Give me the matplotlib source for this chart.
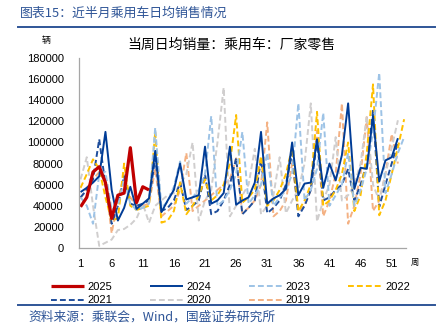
import numpy as np
import matplotlib
matplotlib.use('Agg')
import matplotlib.pyplot as plt
from matplotlib.lines import Line2D

plt.rcParams['font.family'] = ['Liberation Sans', 'Noto Sans CJK SC', 'DejaVu Sans']
CJK = ['Noto Sans CJK SC', 'DejaVu Sans']

# weekly daily-average retail sales (thousand units)
y2025 = [39, 48, 72, 77, 62, 28, 50, 52, 95, 43, 58, 55]
y2024 = [53, 57, 62, 68, 110, 55, 26, 38, 58, 37, 42, 47, 92, 34, 45, 55, 80, 46, 48, 50,
         96, 42, 45, 52, 96, 41, 45, 48, 62, 110, 42, 47, 50, 56, 100, 50, 61, 62, 103, 57,
         80, 64, 88, 137, 56, 76, 75, 125, 63, 83, 86, 104]
y2023 = [48, 40, 23, 70, 72, 36, 40, 65, 42, 36, 38, 42, 114, 38, 44, 58, 82, 42, 48, 55,
         70, 125, 40, 45, 55, 70, 110, 42, 50, 60, 90, 40, 48, 55, 70, 137, 45, 55, 75, 128,
         40, 50, 60, 90, 40, 55, 75, 110, 166, 52, 70, 90, 105]
y2022 = [57, 70, 84, 75, 48, 26, 28, 80, 40, 36, 38, 40, 110, 24, 26, 35, 62, 32, 40, 50,
         65, 45, 50, 60, 80, 126, 43, 48, 55, 87, 40, 45, 55, 70, 95, 35, 45, 60, 129, 40,
         45, 55, 70, 100, 35, 50, 90, 155, 31, 45, 70, 95, 122]
y2021 = [48, 55, 65, 103, 60, 23, 40, 68, 42, 40, 42, 45, 85, 35, 38, 45, 62, 36, 40, 45,
         70, 32, 35, 45, 60, 85, 32, 38, 45, 84, 33, 38, 45, 60, 90, 30, 40, 55, 102, 45,
         48, 55, 60, 75, 45, 60, 80, 130, 39, 60, 80, 100]
y2020 = [65, 86, 40, 2, 5, 8, 17, 18, 22, 28, 42, 24, 40, 45, 50, 52, 60, 70, 100, 26,
         45, 55, 100, 152, 30, 40, 50, 60, 94, 32, 40, 50, 86, 33, 45, 55, 80, 137, 25, 45,
         60, 105, 45, 50, 60, 80, 125, 60, 45, 70, 95, 121]
y2019 = [47, 57, 65, 72, 62, 14, 45, 70, 48, 40, 40, 42, 75, 30, 35, 40, 55, 90, 35, 40,
         45, 50, 55, 60, 65, 85, 33, 38, 45, 60, 119, 30, 35, 45, 80, 35, 40, 55, 111, 30,
         45, 70, 137, 23, 40, 70, 124, 35, 45, 70, 108, 80]

series = [
    ('2025', y2025, '#C00000', '-', 2.3),
    ('2024', y2024, '#003C96', '-', 1.4),
    ('2023', y2023, '#9DC3E6', '--', 1.4),
    ('2022', y2022, '#FFC000', '--', 1.4),
    ('2021', y2021, '#1F4E9C', '--', 1.4),
    ('2020', y2020, '#D0CECE', '--', 1.4),
    ('2019', y2019, '#F4B183', '--', 1.4),
]
yticks = np.arange(0, 180001, 20000)
xticks = np.arange(1, 52, 5)

fig = plt.figure(figsize=(4.42, 3.32), dpi=100)
ax = fig.add_axes([79/442, 1-248/332, (406-79)/442, (248-58)/332])

handles = {}
for name, vals, col, ls, lw in reversed(series):
    w = np.arange(1, len(vals)+1)
    v = np.array(vals) * 1000
    ln, = ax.plot(w, v, color=col, lw=lw, ls=ls, solid_capstyle='butt')
    if ls == '--':
        ln.set_dashes((3, 1.6))
    handles[name] = ln

ax.set_xlim(0.75, 53.3)
ax.set_ylim(0, 180000)
ax.set_yticks(yticks)
ax.set_yticklabels([str(t) for t in yticks])
ax.set_xticks(xticks)
ax.tick_params(axis='both', length=0, labelsize=8)
ax.tick_params(axis='y', pad=11)
ax.tick_params(axis='x', pad=8)
for s in ['top', 'right']:
    ax.spines[s].set_visible(False)
for s in ['left', 'bottom']:
    ax.spines[s].set_color('#A6A6A6')
    ax.spines[s].set_linewidth(0.9)

# texts
fig.text(20/442, 1-13/332, '图表15：近半月乘用车日均销售情况', family=CJK, fontsize=9.3,
         color='#2F5597', style='italic', va='center', ha='left')
fig.add_artist(Line2D([18/442, 435/442], [1-27/332, 1-27/332], color='#2F5597', lw=1.4))
fig.text(46/442, 1-40/332, '辆', family=CJK, fontsize=6.5, va='center', ha='center')
fig.text(231/442, 1-45/332, '当周日均销量：乘用车：厂家零售', family=CJK, fontsize=10,
         va='center', ha='center')
fig.text(415/442, 1-262/332, '周', family=CJK, fontsize=6, va='center', ha='center')

# matplotlib fills legend columns first: reorder so rows read 2025..2022 / 2021..2019
order = ['2025', '2021', '2024', '2020', '2023', '2019', '2022']
fig.legend([handles[k] for k in order], order, ncol=4, frameon=False, fontsize=8,
           loc='upper left', bbox_to_anchor=(45/442, 1-276/332), borderpad=0,
           handlelength=3.0, handletextpad=0.3, columnspacing=3.4, labelspacing=0.35)

fig.add_artist(Line2D([18/442, 435/442], [1-305/332, 1-305/332], color='#2F5597', lw=1.4))
fig.text(28/442, 1-317/332, '资料来源：乘联会，Wind，国盛证券研究所', family=CJK, fontsize=9.2,
         color='#2F5597', style='italic', va='center', ha='left')

fig.savefig('out.png', dpi=100)
